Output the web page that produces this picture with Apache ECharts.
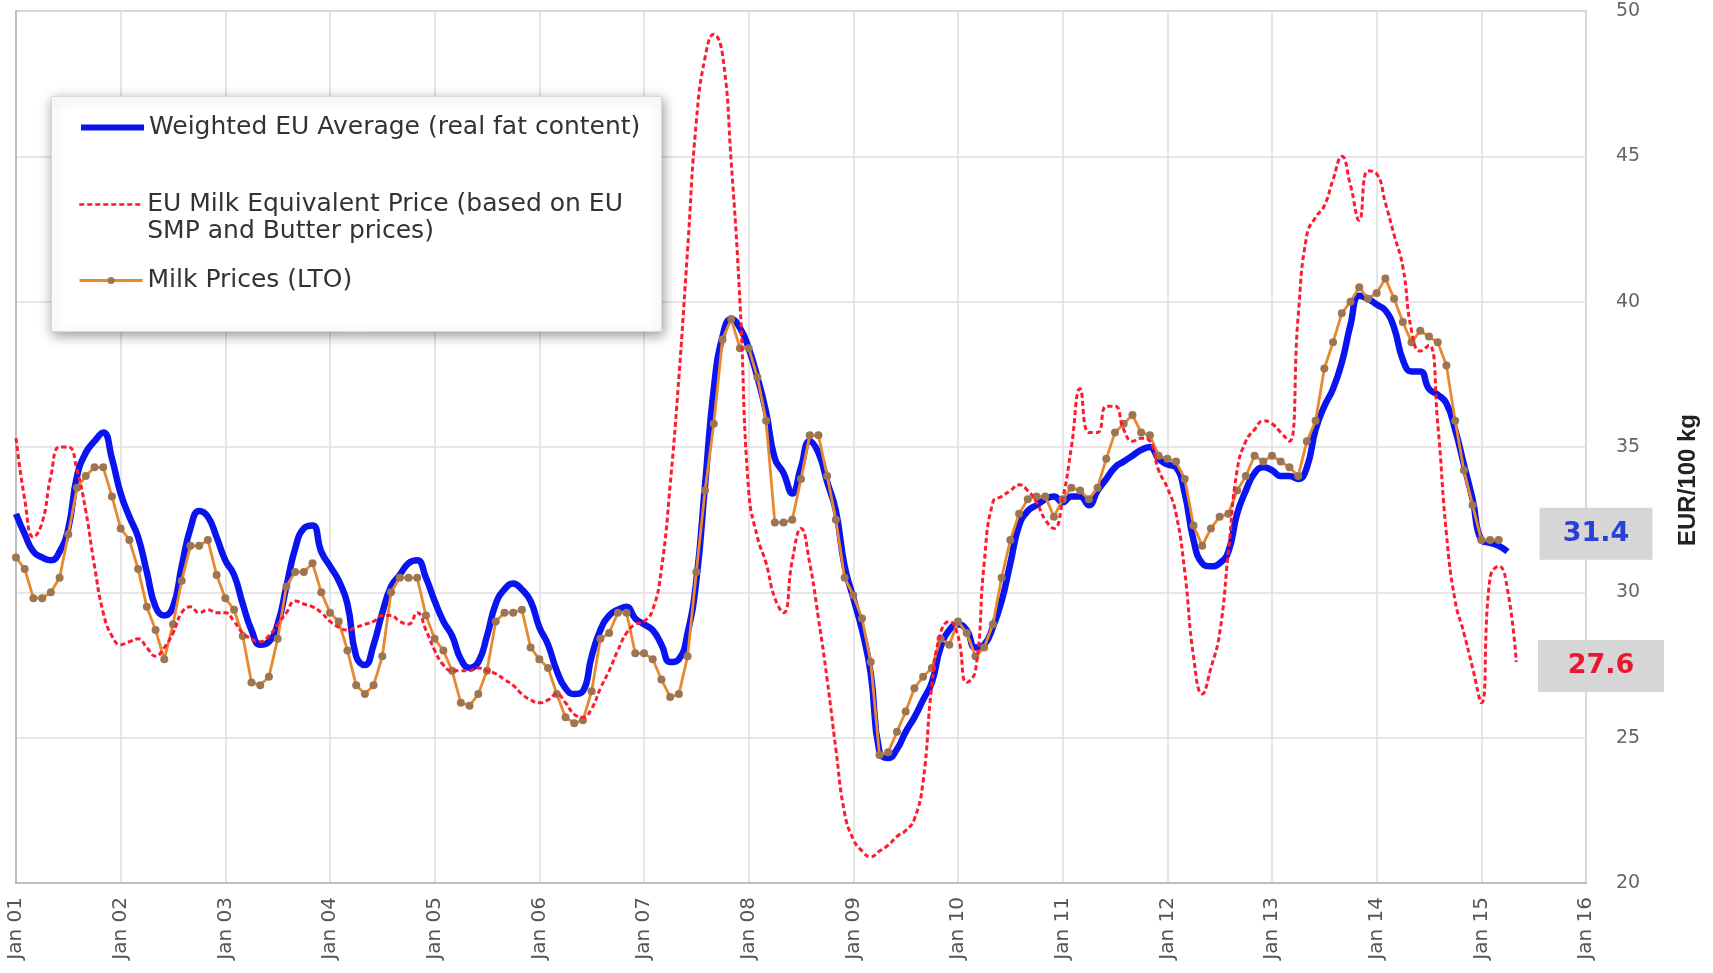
<!DOCTYPE html>
<html>
<head>
<meta charset="utf-8">
<script src="https://cdn.jsdelivr.net/npm/echarts@6/dist/echarts.min.js"></script>
<style>
html,body{margin:0;padding:0;background:#fff;}
#chart{width:1713px;height:973px;}
</style>
</head>
<body>
<div id="chart"></div>
<script>
// Tick labels for the x axis (one per January)
const yearLabels = ['Jan 01','Jan 02','Jan 03','Jan 04','Jan 05','Jan 06','Jan 07','Jan 08',
  'Jan 09','Jan 10','Jan 11','Jan 12','Jan 13','Jan 14','Jan 15','Jan 16'];

// Monthly values from Jan 2001, EUR/100 kg
const weightedEU = [
  32.7,32.0,31.4,31.2,31.1,31.4,32.2,34.0,34.8,35.2,35.5,34.6, // 2001
  33.4,32.6,31.9,30.7,29.5,29.2,29.5,30.9,32.2,32.8,32.6,31.9, // 2002
  31.1,30.6,29.6,28.7,28.2,28.3,28.9,30.2,31.5,32.2,32.3,31.4, // 2003
  30.9,30.4,29.6,27.8,27.5,28.2,29.3,30.2,30.6,31.0,31.1,30.5, // 2004
  29.7,29.0,28.5,27.7,27.4,27.6,28.5,29.6,30.1,30.3,30.1,29.7, // 2005
  28.8,28.2,27.3,26.7,26.5,26.6,27.8,28.7,29.2,29.4,29.5,29.1, // 2006
  28.9,28.7,28.2,27.6,27.7,28.6,30.4,33.7,37.0,38.8,39.4,39.1, // 2007
  38.4,37.4,36.2,34.6,34.1,33.4,34.3,35.2,34.8,33.8,32.8,30.9, // 2008
  29.8,28.7,27.2,24.5,24.3,24.6,25.2,25.7,26.3,26.9,28.1,28.7, // 2009
  28.9,28.7,28.1,28.2,28.8,29.7,31.0,32.3,32.8,33.0,33.2,33.3, // 2010
  33.1,33.3,33.3,33.0,33.5,33.9,34.3,34.5,34.7,34.9,35.0,34.6, // 2011
  34.4,34.3,33.4,31.8,31.0,30.9,31.0,31.4,32.7,33.5,34.1,34.3, // 2012
  34.2,34.0,34.0,33.9,34.3,35.6,36.4,37.0,37.9,39.2,40.2,40.1, // 2013
  39.9,39.7,39.1,38.0,37.6,37.6,37.0,36.8,36.5,35.6,34.4,33.2, // 2014
  31.8,31.7,31.6,31.4                                          // 2015
];

const milkEquivalent = [
  35.3,33.2,31.9,32.4,34.0,35.0,35.0,34.2,32.8,30.9,29.3,28.5, // 2001
  28.2,28.3,28.4,28.1,27.8,28.1,28.6,29.3,29.5,29.3,29.4,29.3, // 2002
  29.3,29.0,28.6,28.4,28.3,28.5,28.9,29.3,29.7,29.6,29.5,29.3, // 2003
  29.0,28.8,28.7,28.8,28.9,29.0,29.2,29.2,29.0,28.9,29.3,28.7, // 2004
  28.0,27.5,27.3,27.3,27.3,27.4,27.3,27.2,27.0,26.8,26.5,26.3, // 2005
  26.2,26.3,26.5,26.2,25.8,25.7,26.0,26.7,27.3,28.0,28.6,28.9, // 2006
  29.0,29.4,30.8,33.7,37.4,41.8,46.2,48.4,49.2,48.5,44.8,40.0, // 2007
  33.5,31.9,31.0,29.8,29.3,31.1,32.2,31.0,29.1,27.0,24.6,22.4, // 2008
  21.5,21.1,20.9,21.1,21.3,21.6,21.8,22.2,23.5,26.8,28.6,29.0, // 2009
  28.5,26.9,27.3,31.0,33.1,33.3,33.5,33.7,33.5,33.1,32.5,32.2, // 2010
  33.2,35.0,37.0,35.5,35.5,36.4,36.4,35.6,35.2,35.3,35.2,34.2, // 2011
  33.6,32.7,30.7,27.8,26.5,27.4,28.6,31.4,34.2,35.2,35.6,35.9, // 2012
  35.8,35.5,35.2,39.5,42.3,42.9,43.3,44.2,45.0,44.0,42.8,44.5, // 2013
  44.4,43.4,42.3,41.2,39.0,38.3,38.5,35.8,32.0,29.7,28.6,27.4, // 2014
  26.2,30.5,30.9,30.1,27.6                                     // 2015
];

const milkLTO = [
  31.2,30.8,29.8,29.8,30.0,30.5,32.0,33.6,34.0,34.3,34.3,33.3, // 2001
  32.2,31.8,30.8,29.5,28.7,27.7,28.9,30.4,31.6,31.6,31.8,30.6, // 2002
  29.8,29.4,28.5,26.9,26.8,27.1,28.4,30.2,30.7,30.7,31.0,30.0, // 2003
  29.3,29.0,28.0,26.8,26.5,26.8,27.8,30.0,30.5,30.5,30.5,29.2, // 2004
  28.4,28.0,27.3,26.2,26.1,26.5,27.3,29.0,29.3,29.3,29.4,28.1, // 2005
  27.7,27.4,26.5,25.7,25.5,25.6,26.6,28.4,28.6,29.3,29.3,27.9, // 2006
  27.9,27.7,27.0,26.4,26.5,27.8,30.7,33.5,35.8,38.7,39.4,38.4, // 2007
  38.4,37.4,35.9,32.4,32.4,32.5,33.9,35.4,35.4,34.0,32.5,30.5, // 2008
  29.9,29.1,27.6,24.4,24.5,25.2,25.9,26.7,27.1,27.4,28.4,28.2, // 2009
  29.0,28.6,27.8,28.1,28.9,30.5,31.8,32.7,33.2,33.3,33.3,32.6, // 2010
  33.2,33.6,33.5,33.2,33.6,34.6,35.5,35.8,36.1,35.5,35.4,34.7, // 2011
  34.6,34.5,33.9,32.3,31.6,32.2,32.6,32.7,33.5,34.0,34.7,34.5, // 2012
  34.7,34.5,34.3,34.0,35.2,35.9,37.7,38.6,39.6,40.0,40.5,40.1, // 2013
  40.3,40.8,40.1,39.3,38.6,39.0,38.8,38.6,37.8,35.9,34.2,33.0, // 2014
  31.8,31.8,31.8                                               // 2015
];

const seriesNames = [
  'Weighted EU Average (real fat content)',
  'EU Milk Equivalent Price (based on EU SMP and Butter prices)',
  'Milk Prices (LTO)'
];

const toPairs = arr => arr.map((v, i) => [i, v]);
const lastOf = arr => arr[arr.length - 1];
const xMax = (yearLabels.length - 1) * 12;

const FONT = 'DejaVu Sans';
const chart = echarts.init(document.getElementById('chart'), null, {renderer: 'canvas'});

const legendText = {fontFamily: FONT, fontSize: 25, color: '#333', lineHeight: 27};
const legendBase = {
  orient: 'horizontal',
  left: 78,
  itemWidth: 63,
  itemHeight: 12,
  itemGap: 0,
  padding: 0,
  selectedMode: false,
  z: 5,
  textStyle: legendText
};
const hiddenSymbol = {color: 'rgba(0,0,0,0)', borderWidth: 0, opacity: 0};

const option = {
  animation: false,
  backgroundColor: '#fff',
  grid: {left: 16, right: 127, top: 11, bottom: 90, show: true, borderColor: '#c6c6c6', borderWidth: 2},
  xAxis: {
    type: 'value', min: 0, max: xMax, interval: 12,
    axisLine: {show: true, lineStyle: {color: '#bdbdbd', width: 2}},
    axisTick: {show: false},
    splitLine: {show: true, lineStyle: {color: '#dedede', width: 1.5}},
    axisLabel: {
      rotate: 90, margin: 14, color: '#555', fontFamily: FONT, fontSize: 20,
      formatter: v => yearLabels[Math.round(v / 12)] || ''
    }
  },
  yAxis: {
    type: 'value', position: 'right', min: 20, max: 50, interval: 5,
    axisLine: {show: true, lineStyle: {color: '#bdbdbd', width: 2}},
    axisTick: {show: false},
    splitLine: {show: true, lineStyle: {color: '#dedede', width: 1.5}},
    axisLabel: {margin: 30, color: '#666', fontFamily: FONT, fontSize: 19},
    name: 'EUR/100 kg', nameLocation: 'middle', nameRotate: 90, nameGap: 90,
    nameTextStyle: {fontFamily: 'Liberation Sans', fontWeight: 'bold', fontSize: 24, color: '#222', padding: [0, 66, 0, 0]}
  },
  legend: [
    Object.assign({}, legendBase, {top: 114, data: [seriesNames[0]],
      itemStyle: hiddenSymbol, lineStyle: {width: 6}}),
    Object.assign({}, legendBase, {top: 164, data: [seriesNames[1]],
      itemStyle: hiddenSymbol, lineStyle: {width: 2.5},
      formatter: () => '\nEU Milk Equivalent Price (based on EU\nSMP and Butter prices)'}),
    Object.assign({}, legendBase, {top: 267, data: [seriesNames[2]], itemHeight: 9, lineStyle: {width: 3}})
  ],
  graphic: [{
    type: 'rect', left: 51, top: 96, z: 3,
    shape: {width: 610, height: 235},
    style: {fill: '#fff', stroke: '#d8d8d8', lineWidth: 1,
      shadowBlur: 12, shadowOffsetX: 1, shadowOffsetY: 3, shadowColor: 'rgba(0,0,0,0.4)'}
  }],
  series: [
    {
      name: seriesNames[0], type: 'line', data: toPairs(weightedEU),
      smooth: true, showSymbol: false, symbol: 'none', z: 2,
      lineStyle: {color: '#0a14f0', width: 6.5}, itemStyle: {color: '#0a14f0'},
      markPoint: {
        symbol: 'rect', symbolSize: [113, 52], symbolOffset: [10, -18], silent: true,
        itemStyle: {color: '#d6d6d6'},
        label: {show: true, position: 'inside', color: '#2b3fd8', fontFamily: FONT, fontWeight: 'bold', fontSize: 27,
          formatter: () => lastOf(weightedEU).toFixed(1)},
        data: [{coord: [xMax, lastOf(weightedEU)]}]
      }
    },
    {
      name: seriesNames[2], type: 'line', data: toPairs(milkLTO),
      smooth: false, symbol: 'circle', symbolSize: 8, showSymbol: true, z: 3,
      lineStyle: {color: '#e8892e', width: 2.8},
      itemStyle: {color: '#9c7652'}
    },
    {
      name: seriesNames[1], type: 'line', data: toPairs(milkEquivalent),
      smooth: true, showSymbol: false, symbol: 'none', z: 4,
      lineStyle: {color: '#ff1a2e', width: 3, type: [5, 3]}, itemStyle: {color: '#ff1a2e'},
      markPoint: {
        symbol: 'rect', symbolSize: [126, 52], symbolOffset: [15, 4], silent: true,
        itemStyle: {color: '#d6d6d6'},
        label: {show: true, position: 'inside', color: '#e8192c', fontFamily: FONT, fontWeight: 'bold', fontSize: 27,
          formatter: () => lastOf(milkEquivalent).toFixed(1)},
        data: [{coord: [xMax, lastOf(milkEquivalent)]}]
      }
    }
  ]
};
chart.setOption(option);
</script>
</body>
</html>
